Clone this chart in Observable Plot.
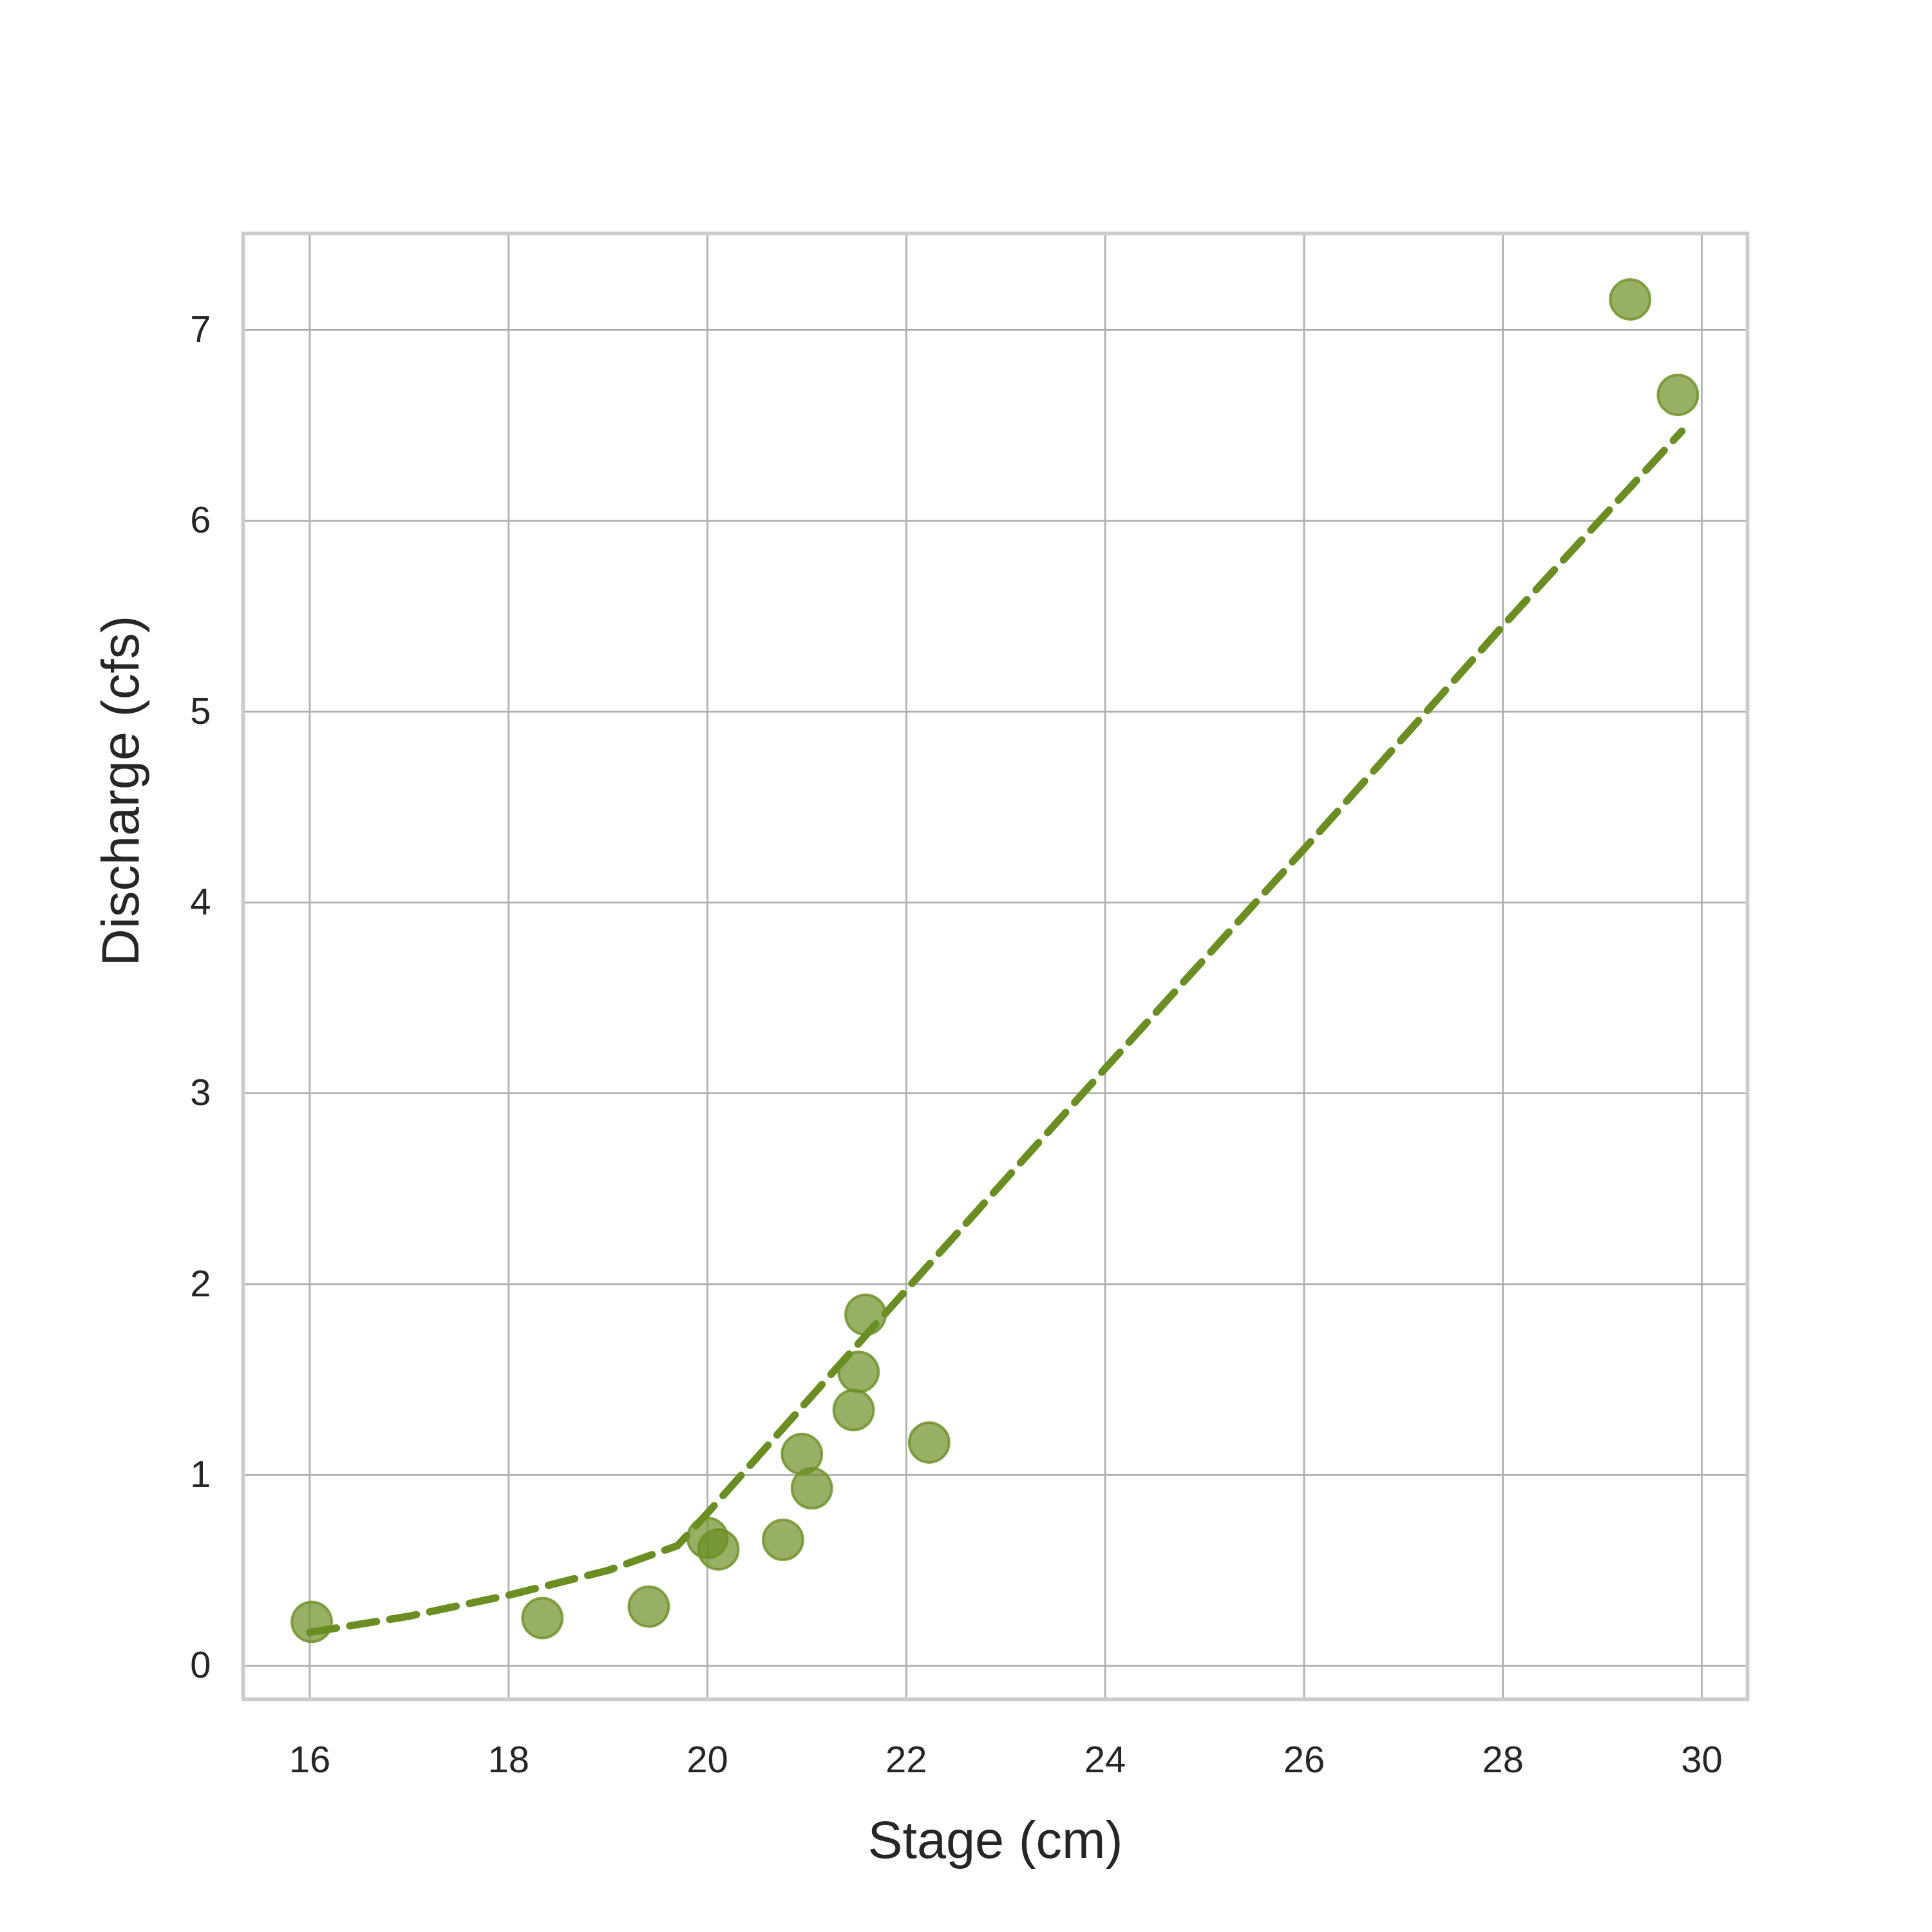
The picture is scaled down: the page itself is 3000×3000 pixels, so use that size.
<!DOCTYPE html>
<html>
<head>
<meta charset="utf-8">
<script src="https://cdn.jsdelivr.net/npm/d3@7"></script>
<script src="https://cdn.jsdelivr.net/npm/@observablehq/plot@0.6"></script>
<style>
  body { margin: 0; background: white; }
  #chart { font-family: Arial, "Liberation Sans", sans-serif; }
</style>
</head>
<body>
<div id="chart"></div>
<script>
// observed points
const stage = [16.02, 18.34, 19.41, 20.0, 20.11, 20.76, 20.95, 21.05, 21.47, 21.52, 21.59, 22.23, 29.28, 29.76]
const discharge = [0.23, 0.25, 0.31, 0.67, 0.61, 0.66, 1.11, 0.93, 1.34, 1.54, 1.84, 1.17, 7.16, 6.66]

// fitted rating curve
const fitStage = [16, 17, 18, 19, 19.7, 20, 22, 24, 26, 28, 29.8]
const fitDischarge = [0.175, 0.26, 0.37, 0.5, 0.63, 0.8, 1.97, 3.13, 4.28, 5.45, 6.47]

const obs = stage.map((s, i) => ({stage: s, q: discharge[i]}))
const fit = fitStage.map((s, i) => ({stage: s, q: fitDischarge[i]}))

const green = "#6b8e23"

let chart = Plot.plot({
  width: 3000,
  height: 3000,
  marginLeft: 377,
  marginRight: 287,
  marginTop: 362,
  marginBottom: 362,
  style: {fontFamily: "Arial, 'Liberation Sans', sans-serif", color: "#262626"},
  x: {domain: [15.33, 30.46], ticks: d3.range(16, 31, 2)},
  y: {domain: [-0.175, 7.506], ticks: d3.range(0, 8)},
  marks: [
    Plot.gridX({ticks: d3.range(16, 31, 2), stroke: "#b0b0b0", strokeOpacity: 1, strokeWidth: 2.8}),
    Plot.gridY({ticks: d3.range(0, 8), stroke: "#b0b0b0", strokeOpacity: 1, strokeWidth: 2.8}),
    Plot.frame({stroke: "#cccccc", strokeWidth: 5.8}),
    Plot.axisX({ticks: d3.range(16, 31, 2), tickSize: 0, tickPadding: 72, fontSize: 58, label: null}),
    Plot.axisY({ticks: d3.range(0, 8), tickSize: 0, tickPadding: 50, fontSize: 58, label: null}),
    Plot.line(fit, {x: "stage", y: "q", stroke: green, strokeWidth: 11.5, strokeDasharray: "42,21"}),
    Plot.dot(obs, {x: "stage", y: "q", r: 31, fill: green, fillOpacity: 0.7, stroke: green, strokeOpacity: 0.8, strokeWidth: 4}),
    Plot.text(["Stage (cm)"], {frameAnchor: "bottom", dy: 246, fontSize: 81, fill: "#262626"}),
    Plot.text(["Discharge (cfs)"], {frameAnchor: "left", dx: -188, rotate: -90, fontSize: 81, fill: "#262626"})
  ]
})

d3.select('#chart').append(() => chart)
</script>
</body>
</html>
